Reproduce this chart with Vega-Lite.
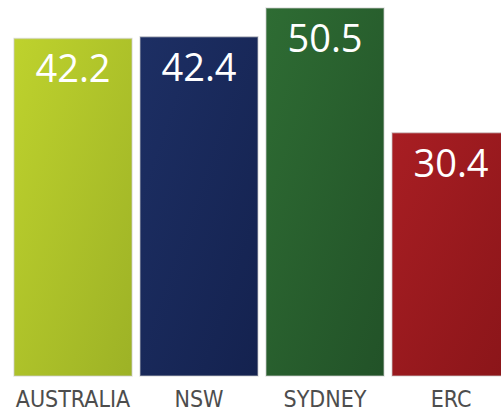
{
  "$schema": "https://vega.github.io/schema/vega-lite/v6.json",
  "width": 487,
  "height": 368,
  "autosize": "none",
  "padding": {"left": 14, "top": 8, "right": 0, "bottom": 36},
  "background": "white",
  "config": {"view": {"stroke": null}},
  "data": {"values": [
    {"region": "AUSTRALIA", "value": 42.2},
    {"region": "NSW", "value": 42.4},
    {"region": "SYDNEY", "value": 50.5},
    {"region": "ERC", "value": 30.4}
  ]},
  "encoding": {
    "x": {
      "field": "region", "type": "nominal", "sort": null,
      "scale": {"range": [0, 496], "paddingInner": 0.0635, "paddingOuter": 0},
      "axis": {"title": null, "domain": false, "ticks": false, "labelAngle": 0, "labelPadding": 12,
               "labelFont": "Liberation Sans Narrow, DejaVu Sans Condensed, Roboto", "labelFontSize": 23,
               "labelColor": "#4d4d4d", "labelFontWeight": "normal"}
    },
    "y": {
      "field": "value", "type": "quantitative",
      "scale": {"domain": [0, 46], "clamp": true, "nice": false, "zero": true},
      "axis": null
    }
  },
  "layer": [
    {
      "mark": {"type": "bar", "stroke": "#cccccc", "strokeWidth": 1.5, "strokeOpacity": 0.5},
      "encoding": {
        "color": {
          "condition": [
            {"test": "datum.region === 'AUSTRALIA'", "value": {"gradient": "linear", "x1": 0, "y1": 0, "x2": 1, "y2": 1, "stops": [{"offset": 0, "color": "#bed22d"}, {"offset": 1, "color": "#9db226"}]}},
            {"test": "datum.region === 'NSW'", "value": {"gradient": "linear", "x1": 0, "y1": 0, "x2": 1, "y2": 1, "stops": [{"offset": 0, "color": "#1d2f64"}, {"offset": 1, "color": "#14224f"}]}},
            {"test": "datum.region === 'SYDNEY'", "value": {"gradient": "linear", "x1": 0, "y1": 0, "x2": 1, "y2": 1, "stops": [{"offset": 0, "color": "#2e6c33"}, {"offset": 1, "color": "#225228"}]}}
          ],
          "value": {"gradient": "linear", "x1": 0, "y1": 0, "x2": 1, "y2": 1, "stops": [{"offset": 0, "color": "#a81e23"}, {"offset": 1, "color": "#8a1519"}]}
        }
      }
    },
    {
      "mark": {"type": "text", "baseline": "top", "dy": 14, "color": "white", "fontSize": 38, "font": "Open Sans"},
      "encoding": {"text": {"field": "value", "type": "quantitative", "format": ".1f"}}
    }
  ]
}
